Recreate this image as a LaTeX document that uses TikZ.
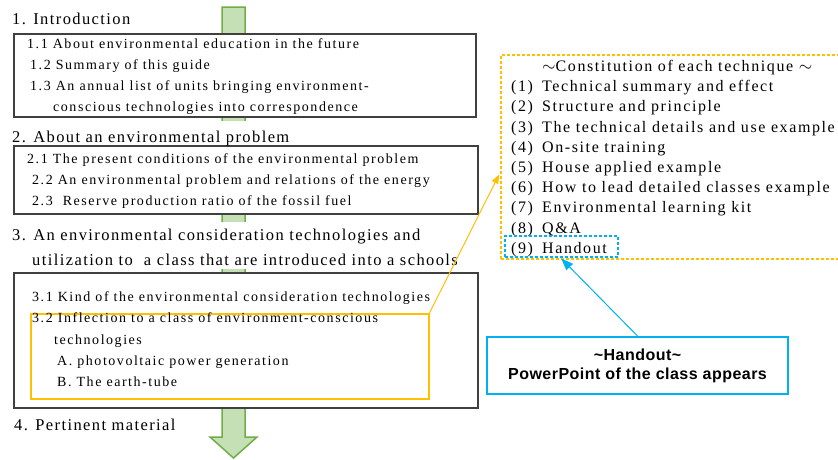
\documentclass[tikz,border=0pt]{standalone}
\usepackage{fontspec}
\setmainfont{Liberation Serif}
\newfontfamily\hfont{Liberation Serif}[LetterSpace=8.5]
\newfontfamily\bfont{Liberation Serif}[LetterSpace=11]
\newfontfamily\dfont{Liberation Serif}[LetterSpace=10]
\newfontfamily\sfont{Liberation Sans}[LetterSpace=3]
\usetikzlibrary{arrows.meta,calc}
\definecolor{gfill}{RGB}{197,224,180}
\definecolor{gline}{RGB}{112,173,71}
\definecolor{orng}{RGB}{255,192,0}
\definecolor{sky}{RGB}{0,176,240}
\definecolor{boxline}{RGB}{64,64,64}
\begin{document}
\begin{tikzpicture}[x=1pt,y=-1pt,
  htext/.style={anchor=base west, inner sep=0pt, font=\hfont\fontsize{16.5}{18}\selectfont},
  btext/.style={anchor=base west, inner sep=0pt, font=\bfont\fontsize{14}{16}\selectfont},
  dtext/.style={anchor=base west, inner sep=0pt, font=\dfont\fontsize{16}{18}\selectfont},
  bbox/.style={draw=boxline, line width=1.6pt, fill=white, inner sep=0pt, anchor=north west},
  obox/.style={draw=orng, line width=1.5pt, inner sep=0pt, anchor=north west},
  odash/.style={draw=orng, line width=1.5pt, dash pattern=on 3pt off 2pt, inner sep=0pt, anchor=north west},
  sdash/.style={draw=sky, line width=1.5pt, dash pattern=on 3pt off 2pt, inner sep=0pt, anchor=north west},
  pptbox/.style={draw=sky, line width=2pt, fill=white, align=center, inner sep=0pt,
    font=\sfont\bfseries\fontsize{16}{19}\selectfont},
  conn/.style={line width=1pt}
]
\useasboundingbox (0,0) rectangle (838,459);
% green flow arrow
\draw[draw=gline, fill=gfill, line width=1.5pt, line join=miter]
  (222,7) -- (245,7) -- (245,437) -- (257,437) -- (233.5,458) -- (210,437) -- (222,437) -- cycle;
% white backgrounds of headings
\fill[white] (0,121) rectangle (480,145);
\fill[white] (0,222) rectangle (480,269);
% boxes
\node[bbox, minimum width=462pt, minimum height=83pt] (b1) at (13,33) {};
\node[bbox, minimum width=464pt, minimum height=68pt] (b2) at (13,145) {};
\node[bbox, minimum width=464pt, minimum height=135pt] (b3) at (13,272) {};
\node[obox, minimum width=398pt, minimum height=85pt] (o32) at (30,313) {};
% headings
\node[htext] (h1) at (12,24) {1. Introduction};
\node[htext] (h2) at (12,142) {2. About an environmental problem};
\node[htext] (h3a) at (12,240) {3. An environmental consideration technologies and};
\node[htext] (h3b) at (32,265) {utilization to\ \ a class that are introduced into a schools};
\node[htext] (h4) at (14,430) {4. Pertinent material};
% box 1
\node[btext] (t11) at (27,48.5) {1.1 About environmental education in the future};
\node[btext] (t12) at (30,69) {1.2 Summary of this guide};
\node[btext] (t13) at (30,90.5) {1.3 An annual list of units bringing environment-};
\node[btext] (t13b) at (53,111) {conscious technologies into correspondence};
% box 2
\node[btext] (t21) at (27,163) {2.1 The present conditions of the environmental problem};
\node[btext] (t22) at (32,184.5) {2.2 An environmental problem and relations of the energy};
\node[btext] (t23) at (32,205.5) {2.3\ \ Reserve production ratio of the fossil fuel};
% box 3
\node[btext] (t31) at (32,301.5) {3.1 Kind of the environmental consideration technologies};
\node[btext] (t32) at (32,322.5) {3.2 Inflection to a class of environment-conscious};
\node[btext] (t32b) at (54,344.5) {technologies};
\node[btext] (tA) at (57,365.5) {A. photovoltaic power generation};
\node[btext] (tB) at (57,386.5) {B. The earth-tube};
% constitution box
\node[odash, minimum width=345pt, minimum height=204pt] (dash) at (500,54) {};
\node[dtext] (ct) at (542,71.5) {$\sim$Constitution of each technique $\sim$};
\foreach \n/\t [count=\i] in {1/Technical summary and effect,2/Structure and principle,
  3/The technical details and use example,4/On-site training,5/House applied example,
  6/How to lead detailed classes example,7/Environmental learning kit,8/Q\&A,9/Handout}{
  \node[dtext] (n\i) at (511,71.5+20.2*\i) {(\n)};
  \node[dtext] (c\i) at (542,71.5+20.2*\i) {\t};
}
\node[sdash, minimum width=113pt, minimum height=21pt] (ho) at (504,235) {};
% handout box
\node[pptbox, minimum width=301pt, minimum height=57pt] (ppt) at (637.5,365.5)
  {\textasciitilde Handout\textasciitilde\\PowerPoint of the class appears};
% connectors
\draw[conn, draw=orng, -{Triangle[length=9pt,width=7pt]}, shorten >=2pt]
  (o32.north east) -- ([yshift=-16pt]dash.west);
\draw[conn, draw=sky, -{Triangle[length=12pt,width=9pt]}]
  (ppt.north) -- ([yshift=-1pt]ho.south);
\end{tikzpicture}
\end{document}
